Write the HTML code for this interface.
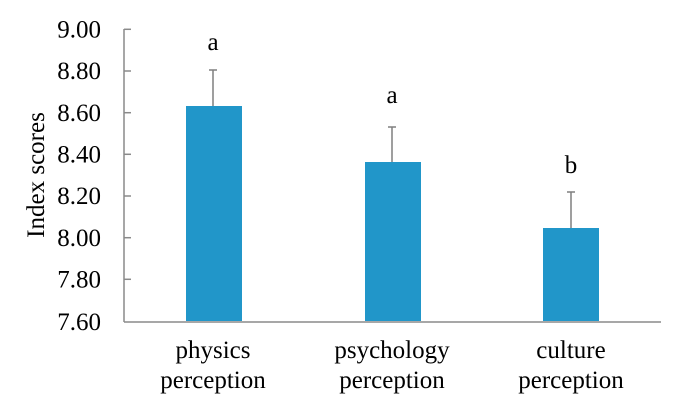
<!DOCTYPE html>
<html><head><meta charset="utf-8"><style>html,body{margin:0;padding:0;background:#fff}svg text{font-family:"Liberation Serif","DejaVu Serif","Noto Serif CJK SC",serif}</style></head>
<body>
<svg width="685" height="402" xmlns="http://www.w3.org/2000/svg" fill="#000">
<g stroke="#8a8a8a" stroke-width="1.5">
<line x1="124" y1="29" x2="124" y2="322"/>
<line x1="124" y1="322" x2="661" y2="322"/>
<line x1="124" y1="29.3" x2="131" y2="29.3"/>
<line x1="124" y1="71" x2="131" y2="71"/>
<line x1="124" y1="112.7" x2="131" y2="112.7"/>
<line x1="124" y1="154.3" x2="131" y2="154.3"/>
<line x1="124" y1="196" x2="131" y2="196"/>
<line x1="124" y1="237.7" x2="131" y2="237.7"/>
<line x1="124" y1="279.3" x2="131" y2="279.3"/>
</g>
<g font-size="25" text-anchor="end">
<text x="101" y="37.5">9.00</text>
<text x="101" y="79">8.80</text>
<text x="101" y="121">8.60</text>
<text x="101" y="162.5">8.40</text>
<text x="101" y="204">8.20</text>
<text x="101" y="246">8.00</text>
<text x="101" y="287.5">7.80</text>
<text x="101" y="330">7.60</text>
</g>
<text transform="translate(44,175) rotate(-90)" font-size="25" text-anchor="middle">Index scores</text>
<g stroke="#7f7f7f" stroke-width="1.5">
<line x1="213" y1="70" x2="213" y2="106"/><line x1="209" y1="70" x2="217" y2="70"/>
<line x1="392" y1="127" x2="392" y2="163"/><line x1="388" y1="127" x2="396" y2="127"/>
<line x1="571" y1="192" x2="571" y2="229"/><line x1="567" y1="192" x2="575" y2="192"/>
</g>
<g fill="#2196c9">
<rect x="186" y="106" width="56" height="215"/>
<rect x="365" y="162" width="56" height="159"/>
<rect x="543" y="228" width="56" height="93"/>
</g>
<g font-size="25" text-anchor="middle">
<text x="213" y="50">a</text>
<text x="392" y="103">a</text>
<text x="571" y="173">b</text>
<text x="213" y="358">physics</text>
<text x="213" y="388">perception</text>
<text x="392" y="358">psychology</text>
<text x="392" y="388">perception</text>
<text x="571" y="358">culture</text>
<text x="571" y="388">perception</text>
</g>
</svg>
</body></html>
